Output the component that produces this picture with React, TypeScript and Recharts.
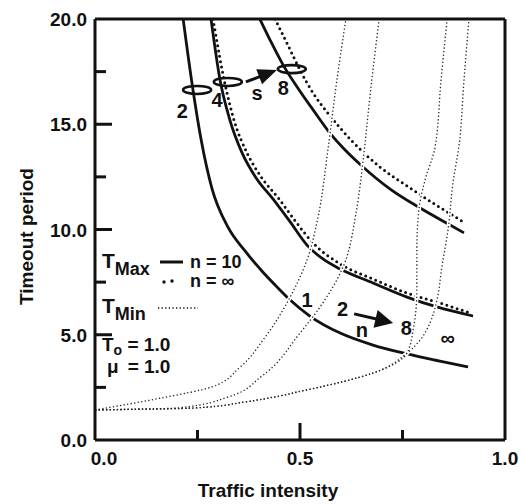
import React from 'react';
import { LineChart, Line, XAxis, YAxis, ReferenceLine, ReferenceDot } from 'recharts';

const FONT = '"Liberation Sans", Arial, Helvetica, sans-serif';
const INK = '#111';

// axis ticks
const xTicks = [0, 0.25, 0.5, 0.75, 1];
const xLabelled = [0, 0.5, 1];
const yTicks = [0, 2.5, 5, 7.5, 10, 12.5, 15, 17.5, 20];

// T_Max, n = 10 (solid lines), s = 2, 4, 8
const maxS2X = [0.215, 0.239, 0.259, 0.285, 0.324, 0.366, 0.407, 0.444, 0.476, 0.524, 0.598, 0.678, 0.761, 0.841, 0.91];
const maxS2Y = [20.0, 16.63, 14.25, 11.97, 10.12, 8.98, 8.03, 7.27, 6.65, 5.89, 5.08, 4.51, 4.09, 3.75, 3.47];
const maxS4X = [0.283, 0.305, 0.329, 0.359, 0.393, 0.434, 0.476, 0.517, 0.556, 0.598, 0.678, 0.761, 0.834, 0.922];
const maxS4Y = [20.0, 17.1, 15.2, 13.63, 12.45, 11.45, 10.36, 9.26, 8.6, 8.12, 7.46, 6.79, 6.32, 5.89];
const maxS8X = [0.402, 0.427, 0.459, 0.493, 0.532, 0.573, 0.61, 0.651, 0.72, 0.793, 0.866, 0.9];
const maxS8Y = [20.0, 19.0, 17.81, 16.77, 15.68, 14.58, 13.78, 13.02, 11.92, 11.02, 10.21, 9.84];

// T_Max, n = infinity (heavy dots), s = 4, 8
const infS4X = [0.288, 0.315, 0.339, 0.371, 0.407, 0.449, 0.49, 0.532, 0.598, 0.678, 0.761, 0.841, 0.915];
const infS4Y = [20.0, 17.1, 15.2, 13.63, 12.45, 11.45, 10.36, 9.36, 8.36, 7.65, 6.98, 6.51, 6.03];
const infS8X = [0.439, 0.468, 0.5, 0.532, 0.566, 0.598, 0.627, 0.695, 0.761, 0.824, 0.895];
const infS8Y = [20.0, 18.86, 17.58, 16.48, 15.58, 14.82, 14.2, 12.97, 12.07, 11.26, 10.4];

// T_Min (fine dots), n = 1, 2, 8, infinity
const minN1X = [0, 0.163, 0.285, 0.354, 0.415, 0.476, 0.517, 0.544, 0.568, 0.59, 0.612];
const minN1Y = [1.43, 2.0, 2.52, 3.47, 4.89, 6.79, 8.55, 10.59, 13.78, 17.1, 20.0];
const minN2X = [0, 0.202, 0.324, 0.407, 0.5, 0.549, 0.605, 0.637, 0.654, 0.671, 0.693];
const minN2Y = [1.43, 1.52, 2.04, 3.04, 5.08, 6.32, 8.22, 10.83, 13.3, 16.39, 20.0];
const minN8X = [0, 0.244, 0.366, 0.517, 0.678, 0.761, 0.776, 0.785, 0.785, 0.79, 0.805, 0.829, 0.844, 0.859];
const minN8Y = [1.43, 1.52, 1.81, 2.38, 3.18, 4.13, 5.23, 7.13, 9.03, 10.93, 12.35, 13.87, 17.1, 20.0];
const minInfX = [0, 0.244, 0.366, 0.517, 0.678, 0.761, 0.793, 0.817, 0.834, 0.846, 0.861, 0.873, 0.888, 0.9, 0.912];
const minInfY = [1.43, 1.52, 1.81, 2.38, 3.18, 4.13, 4.75, 5.56, 6.65, 8.22, 9.98, 12.21, 14.01, 17.1, 20.0];

// annotations (data coords)
const ellipses = [
  { x: 0.249, y: 16.63 },
  { x: 0.324, y: 17.01 },
  { x: 0.48, y: 17.62 },
];
const notes = [
  { x: 0.213, y: 15.63, text: '2', dy: 7 },
  { x: 0.298, y: 16.15, text: '4', dy: 7 },
  { x: 0.395, y: 16.39, text: 's', dy: 5 },
  { x: 0.459, y: 16.72, text: '8', dy: 7 },
  { x: 0.517, y: 6.67, text: '1', dy: 7 },
  { x: 0.604, y: 6.2, text: '2', dy: 7 },
  { x: 0.651, y: 5.13, text: 'n', dy: 5 },
  { x: 0.759, y: 5.34, text: '8', dy: 7 },
  { x: 0.86, y: 4.75, text: '\u221E', dy: 5 },
];
const arrows = [
  { x: 0.368, y: 17.01, dx: 31, dy: -12, len: 19, half: 8 },
  { x: 0.632, y: 5.99, dx: 39, dy: 9, len: 18, half: 9 },
];

const toPoints = (xs: number[], ys: number[]) => xs.map((x, i) => ({ x, y: ys[i] }));

const maxSeries = [toPoints(maxS2X, maxS2Y), toPoints(maxS4X, maxS4Y), toPoints(maxS8X, maxS8Y)];
const infSeries = [toPoints(infS4X, infS4Y), toPoints(infS8X, infS8Y)];
const minSeries = [
  toPoints(minN1X, minN1Y),
  toPoints(minN2X, minN2Y),
  toPoints(minN8X, minN8Y),
  toPoints(minInfX, minInfY),
];

const textStyle = { fontFamily: FONT, fontWeight: 700, fill: INK } as const;

function XTick({ x, y, payload }: any) {
  const v = payload.value;
  const axisY = y - 12;
  const len = v === 0.5 ? 17 : 10;
  return (
    <g>
      {v > 0 && v < 1 && (
        <line x1={x} x2={x} y1={axisY} y2={axisY - len} stroke={INK} strokeWidth={3} />
      )}
      {xLabelled.includes(v) && (
        <text x={x + (v === 0 ? 9 : 0)} y={axisY + 25} textAnchor="middle" fontSize={19} {...textStyle}>
          {v.toFixed(1)}
        </text>
      )}
    </g>
  );
}

function YTick({ x, y, payload }: any) {
  const v = payload.value;
  const axisX = x + 8;
  const major = v % 5 === 0;
  return (
    <g>
      {v > 0 && v < 20 && (
        <line x1={axisX} x2={axisX + (major ? 17 : 11)} y1={y} y2={y} stroke={INK} strokeWidth={3} />
      )}
      {major && (
        <text x={x} y={y + 7} textAnchor="end" fontSize={19} {...textStyle}>
          {v.toFixed(1)}
        </text>
      )}
    </g>
  );
}

function arrowShape(a: typeof arrows[number]) {
  return (p: any) => {
    const { cx, cy } = p;
    const tx = cx + a.dx;
    const ty = cy + a.dy;
    const d = Math.hypot(a.dx, a.dy);
    const ux = a.dx / d;
    const uy = a.dy / d;
    const bx = tx - ux * a.len;
    const by = ty - uy * a.len;
    const head = `M${tx},${ty} L${bx - uy * a.half},${by + ux * a.half} L${bx + uy * a.half},${by - ux * a.half} Z`;
    return (
      <g>
        <line x1={cx} y1={cy} x2={bx + ux * 2} y2={by + uy * 2} stroke={INK} strokeWidth={3} />
        <path d={head} fill={INK} />
      </g>
    );
  };
}

// legend block drawn relative to the top-left corner of the plot
function legendShape(p: any) {
  const ox = p.cx;
  const oy = p.cy;
  return (
    <g>
      <text x={ox + 7} y={oy + 249} fontSize={21} {...textStyle}>
        T<tspan dy={7} fontSize={18}>Max</tspan>
      </text>
      <line x1={ox + 65} x2={ox + 88} y1={oy + 243} y2={oy + 243} stroke={INK} strokeWidth={3} />
      <text x={ox + 95} y={oy + 249} fontSize={18} {...textStyle}>n = 10</text>
      <circle cx={ox + 69} cy={oy + 263} r={1.7} fill={INK} />
      <circle cx={ox + 77} cy={oy + 262} r={1.7} fill={INK} />
      <text x={ox + 95} y={oy + 268} fontSize={18} {...textStyle}>n = {'\u221E'}</text>
      <text x={ox + 7} y={oy + 294} fontSize={21} {...textStyle}>
        T<tspan dy={7} fontSize={18}>Min</tspan>
      </text>
      <line
        x1={ox + 63}
        x2={ox + 103}
        y1={oy + 289}
        y2={oy + 289}
        stroke={INK}
        strokeWidth={1.3}
        strokeDasharray="1.3 2.3"
      />
      <text x={ox + 7} y={oy + 332} fontSize={19} {...textStyle}>
        T<tspan dy={4} fontSize={14}>o</tspan>
        <tspan dy={-4} fontSize={19}>{' = 1.0'}</tspan>
      </text>
      <text x={ox + 12} y={oy + 354} fontSize={19} {...textStyle}>
        {'\u03BC'}
        <tspan dx={9}>= 1.0</tspan>
      </text>
    </g>
  );
}

export default function App() {
  return (
    <div style={{ position: 'absolute', left: 0, top: 0, width: 522, height: 504, background: '#fff' }}>
      <LineChart width={522} height={504} margin={{ top: 19, right: 17, bottom: 24, left: 15 }}>
        {maxSeries.map((d, i) => (
          <Line
            key={`max${i}`}
            data={d}
            dataKey="y"
            type="monotone"
            stroke={INK}
            strokeWidth={2.8}
            dot={false}
            activeDot={false}
            isAnimationActive={false}
          />
        ))}
        {infSeries.map((d, i) => (
          <Line
            key={`inf${i}`}
            data={d}
            dataKey="y"
            type="monotone"
            stroke={INK}
            strokeWidth={3}
            strokeDasharray="0 5.4"
            strokeLinecap="round"
            dot={false}
            activeDot={false}
            isAnimationActive={false}
          />
        ))}
        {minSeries.map((d, i) => (
          <Line
            key={`halo${i}`}
            data={d}
            dataKey="y"
            type="monotoneY"
            stroke="#fff"
            strokeWidth={4}
            dot={false}
            activeDot={false}
            isAnimationActive={false}
          />
        ))}
        {minSeries.map((d, i) => (
          <Line
            key={`min${i}`}
            data={d}
            dataKey="y"
            type="monotoneY"
            stroke="#222"
            strokeWidth={1.3}
            strokeDasharray="1.3 2.3"
            dot={false}
            activeDot={false}
            isAnimationActive={false}
          />
        ))}

        <XAxis
          type="number"
          dataKey="x"
          domain={[0, 1]}
          ticks={xTicks}
          interval={0}
          allowDataOverflow
          height={40}
          tickSize={0}
          tickMargin={12}
          tickLine={false}
          tick={XTick}
          axisLine={{ stroke: INK, strokeWidth: 3 }}
          label={(p: any) => {
            const vb = p.viewBox ?? { x: 95, y: 440, width: 410, height: 40 };
            return (
              <text x={vb.x + vb.width / 2 - 32} y={vb.y + vb.height + 17} textAnchor="middle" fontSize={19} {...textStyle}>
                Traffic intensity
              </text>
            );
          }}
        />
        <YAxis
          type="number"
          domain={[0, 20]}
          ticks={yTicks}
          interval={0}
          allowDataOverflow
          width={80}
          tickSize={0}
          tickMargin={8}
          tickLine={false}
          tick={YTick}
          axisLine={{ stroke: INK, strokeWidth: 3 }}
          label={(p: any) => {
            const vb = p.viewBox ?? { x: 15, y: 19, width: 80, height: 421 };
            const cx = vb.x + 18;
            const cy = vb.y + vb.height / 2 + 7;
            return (
              <text x={cx} y={cy} transform={`rotate(-90, ${cx}, ${cy})`} textAnchor="middle" fontSize={19} {...textStyle}>
                Timeout period
              </text>
            );
          }}
        />
        <ReferenceLine y={20} stroke={INK} strokeWidth={3} />
        <ReferenceLine x={1} stroke={INK} strokeWidth={3} />

        {ellipses.map((e, i) => (
          <ReferenceDot
            key={`ell${i}`}
            x={e.x}
            y={e.y}
            r={0}
            shape={(p: any) => (
              <ellipse cx={p.cx} cy={p.cy} rx={14} ry={4} fill="none" stroke={INK} strokeWidth={2.6} />
            )}
          />
        ))}
        {notes.map((n, i) => (
          <ReferenceDot
            key={`note${i}`}
            x={n.x}
            y={n.y}
            r={0}
            shape={(p: any) => (
              <text x={p.cx} y={p.cy + n.dy} textAnchor="middle" fontSize={20} {...textStyle}>
                {n.text}
              </text>
            )}
          />
        ))}
        {arrows.map((a, i) => (
          <ReferenceDot key={`arrow${i}`} x={a.x} y={a.y} r={0} shape={arrowShape(a)} />
        ))}
        <ReferenceDot x={0} y={20} r={0} shape={legendShape} />
      </LineChart>
    </div>
  );
}
